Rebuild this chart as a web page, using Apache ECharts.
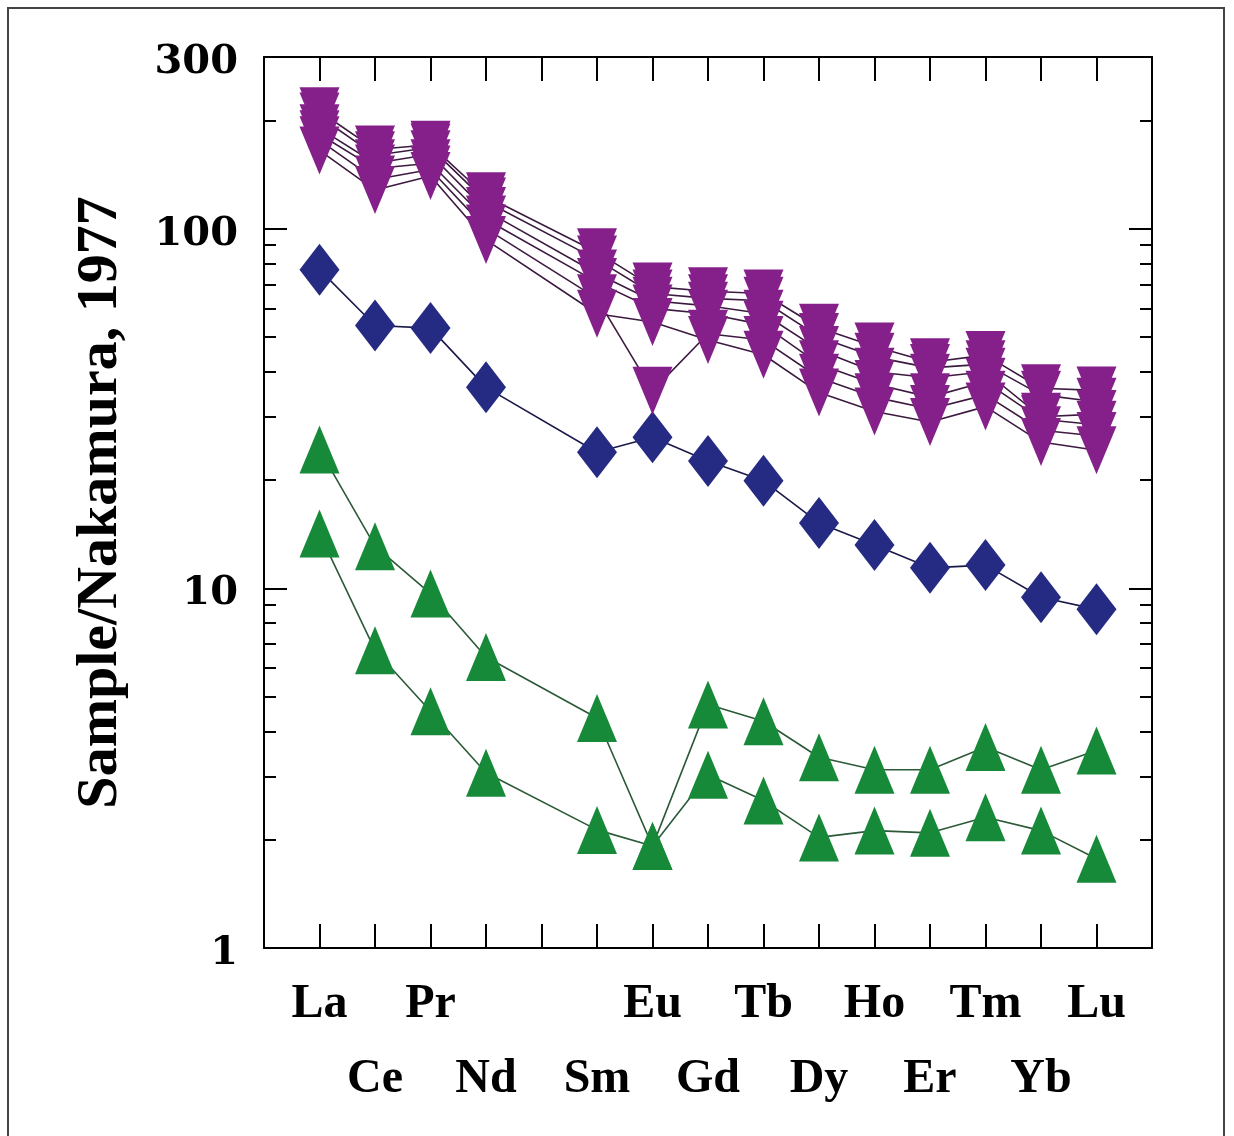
<!DOCTYPE html>
<html><head><meta charset="utf-8">
<script src="https://cdn.jsdelivr.net/npm/echarts@6/dist/echarts.min.js"></script>
<style>html,body{margin:0;padding:0;background:#fff}#c{width:1234px;height:1136px}</style>
</head><body><div id="c"></div>
<script>
// Rare earth elements (Pm has no data and no label)
const elements = ['La','Ce','Pr','Nd','Pm','Sm','Eu','Gd','Tb','Dy','Ho','Er','Tm','Yb','Lu'];
const hiddenLabels = ['Pm'];
const minorTickValues = [2,3,4,5,6,7,8,9,20,30,40,50,60,70,80,90,200];

// Blue diamonds
const blue = [76.9, 53.8, 52.9, 36.2, null, 23.9, 26.3, 22.6, 19.9, 15.2, 13.2, 11.4, 11.6, 9.44, 8.74];
// Green triangles
const green1 = [24.3, 13.1, 9.67, 6.44, null, 4.36, 1.92, 4.75, 4.27, 3.39, 3.13, 3.13, 3.62, 3.13, 3.54];
const green2 = [14.2, 6.73, 4.55, 3.07, null, 2.13, 1.92, 3.03, 2.57, 2.03, 2.12, 2.09, 2.31, 2.12, 1.77];
// Purple inverted triangles
const purple1 = [212, 166, 171, 123, null, 86, 69, 67, 66, 53, 47, 42.5, 44.5, 36, 35.5];
const purple2 = [205, 160, 168, 119, null, 82, 66, 64, 63, 50, 44, 41, 42, 34.5, 33];
const purple3 = [190, 152, 161, 112, null, 75, 63, 61, 58, 46, 40, 38.5, 40, 30, 30.5];
const purple4 = [183, 147, 152, 106, null, 71, 60, 58, 54, 42, 37, 34, 37.5, 29.5, 28.5];
const purple5 = [176, 137, 146, 100, null, 64, 35.4, 51, 49, 38.5, 34, 31.5, 34.5, 27.5, 26.5];
const purple6 = [165, 128, 140, 93, null, 58, 55, 49, 44.6, 35, 31, 29, 32, 25.5, 24.2];

const PURPLE = '#85208b', PURPLE_LINE = '#3d1a40';
const BLUE = '#252a82', BLUE_LINE = '#1a1a4a';
const GREEN = '#178a3a', GREEN_LINE = '#2c5a38';

function pts(arr) {
  return arr.map((v, i) => [i, v]).filter(p => p[1] != null);
}
const groups = [
  {arrs: [green1, green2], color: GREEN, line: GREEN_LINE, symbol: 'triangle', rot: 0, size: [40, 48]},
  {arrs: [blue], color: BLUE, line: BLUE_LINE, symbol: 'diamond', rot: 0, size: [40, 52]},
  {arrs: [purple1, purple2, purple3, purple4, purple5, purple6], color: PURPLE, line: PURPLE_LINE, symbol: 'triangle', rot: 180, size: [40, 48]}
];
const series = [];
groups.forEach(g => g.arrs.forEach(a => {
  series.push({type: 'line', data: pts(a), symbol: 'none', z: 2, silent: true,
    lineStyle: {color: g.line, width: 1.6}});
}));
groups.forEach(g => g.arrs.forEach(a => {
  series.push({type: 'scatter', data: pts(a), symbol: g.symbol, symbolRotate: g.rot,
    symbolSize: g.size, z: 3, silent: true, itemStyle: {color: g.color, opacity: 1}});
}));

const axisLine = {show: true, onZero: false, lineStyle: {color: '#000', width: 2}};
const noLine = {show: false, onZero: false};
const tickStyle = {color: '#000', width: 2};
const lblFont = {fontFamily: 'Liberation Serif', fontWeight: 'bold', fontSize: 48, color: '#000'};

function rowLabel(row) {
  return function (v) {
    const name = elements[v];
    if (!name || hiddenLabels.indexOf(name) >= 0) return '';
    return (v % 2 === row) ? name : '';
  };
}

const option = {
  animation: false,
  backgroundColor: '#fff',
  grid: {left: 264, right: 82, top: 57, bottom: 188, containLabel: false, outerBoundsMode: 'none'},
  xAxis: [
    {type: 'value', min: -1, max: 15, interval: 1, position: 'bottom',
     axisLine: axisLine, splitLine: {show: false},
     axisTick: {inside: true, length: 24, lineStyle: tickStyle},
     axisLabel: Object.assign({margin: 33, formatter: rowLabel(0)}, lblFont)},
    {type: 'value', min: -1, max: 15, interval: 1, position: 'bottom',
     axisLine: noLine, splitLine: {show: false}, axisTick: {show: false},
     axisLabel: Object.assign({margin: 108, formatter: rowLabel(1)}, lblFont)},
    {type: 'value', min: -1, max: 15, interval: 1, position: 'top',
     axisLine: axisLine, splitLine: {show: false},
     axisTick: {inside: true, length: 24, lineStyle: tickStyle},
     axisLabel: {show: false}}
  ],
  yAxis: [
    {type: 'log', logBase: 10, min: 1, max: 300, position: 'left',
     axisLine: axisLine, splitLine: {show: false},
     axisTick: {inside: true, length: 23, lineStyle: tickStyle},
     axisLabel: {margin: 26, formatter: v => '{v|' + Math.round(v) + '}',
       rich: {v: {fontFamily: 'DejaVu Serif', fontWeight: 'bold', fontSize: 40, color: '#000',
         padding: [11, 0, 0, 0]}}},
     name: 'Sample/Nakamura, 1977', nameLocation: 'middle', nameGap: 134,
     nameTextStyle: {fontFamily: 'Liberation Serif', fontWeight: 'bold', fontSize: 58, color: '#000'}},
    {type: 'log', logBase: 10, min: 1, max: 300, position: 'left',
     axisLine: noLine, splitLine: {show: false},
     axisTick: {inside: true, length: 12, lineStyle: tickStyle, customValues: minorTickValues},
     axisLabel: {show: false}},
    {type: 'log', logBase: 10, min: 1, max: 300, position: 'right',
     axisLine: axisLine, splitLine: {show: false},
     axisTick: {inside: true, length: 23, lineStyle: tickStyle},
     axisLabel: {show: false}},
    {type: 'log', logBase: 10, min: 1, max: 300, position: 'right',
     axisLine: noLine, splitLine: {show: false},
     axisTick: {inside: true, length: 12, lineStyle: tickStyle, customValues: minorTickValues},
     axisLabel: {show: false}}
  ],
  graphic: [{type: 'rect', silent: true, z: -10,
    shape: {x: 8, y: 8, width: 1216, height: 1140},
    style: {fill: 'none', stroke: '#444', lineWidth: 2}}],
  series: series
};
const chart = echarts.init(document.getElementById('c'), null, {renderer: 'canvas'});
chart.setOption(option);
</script>
</body></html>
